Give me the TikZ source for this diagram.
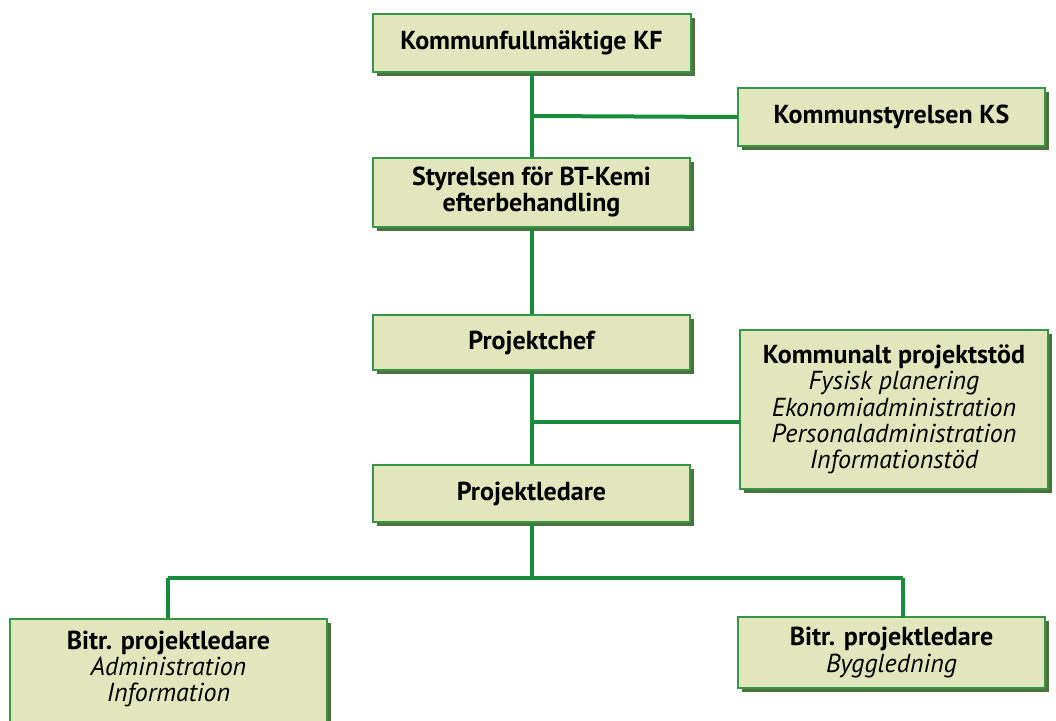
\documentclass[tikz,border=0pt]{standalone}
\usepackage{fontspec}
\setmainfont{PT Sans}
\usetikzlibrary{calc}
\definecolor{boxfill}{RGB}{226,230,188}
\definecolor{boxline}{RGB}{52,150,70}
\definecolor{shadowc}{RGB}{78,112,60}
\definecolor{conn}{RGB}{24,140,58}
\begin{document}
\begin{tikzpicture}[x=1pt,y=-1pt,
  orgbox/.style={draw=boxline, line width=2pt, fill=boxfill, align=center,
    inner sep=0pt, font=\fontsize{26}{26.3}\selectfont\bfseries,
    preaction={fill=shadowc, transform canvas={xshift=4pt,yshift=-4pt}}},
  plaintext/.style={align=center, inner sep=0pt, font=\fontsize{26}{26.3}\selectfont},
  link/.style={draw=conn, line width=4pt}]
\useasboundingbox (0,0) rectangle (1056,720);
\coordinate (ksjoin) at (531.5,116);
\coordinate (kpjoin) at (531.5,422);
\coordinate (kpend) at (740,422);
\coordinate (bjoin) at (531.5,578);
\coordinate (bl) at (168,578);
\coordinate (br) at (903,578);
\coordinate (blbot) at (168,618);
\coordinate (brbot) at (903,618);

\node[orgbox, minimum width=318pt, minimum height=58pt] (kf) at (531.5,42.5) {Kommunfullmäktige KF};
\node[orgbox, minimum width=307pt, minimum height=58pt] (ks) at (891.5,117) {Kommunstyrelsen KS};
\node[orgbox, minimum width=317pt, minimum height=69pt] (st) at (531.5,192) {Styrelsen för BT-Kemi\\efterbehandling};
\node[orgbox, minimum width=317pt, minimum height=55pt] (pc) at (531.5,342.5) {Projektchef};
\node[orgbox, minimum width=308pt, minimum height=159pt] (kp) at (894,409.5) {Kommunalt projektstöd\\
  {\normalfont\itshape Fysisk planering}\\
  {\normalfont\itshape Ekonomiadministration}\\
  {\normalfont\itshape Personaladministration}\\
  {\normalfont\itshape Informationstöd}};
\node[orgbox, minimum width=317pt, minimum height=57pt] (pl) at (531.5,493.5) {Projektledare};
\node[orgbox, minimum width=317pt, minimum height=124pt, anchor=north] (bal) at (168.5,618) {};
\node[plaintext] (baltext) at (168.5,669) {\textbf{Bitr. projektledare}\\ \itshape Administration\\ \itshape Information};
\node[orgbox, minimum width=307pt, minimum height=71pt] (bar) at (891.5,652.5) {Bitr. projektledare\\ {\normalfont\itshape Byggledning}};

\draw[link] (kf.south) -- (st.north);
\draw[link] (ks.west) -- (ksjoin);
\draw[link] (st.south) -- (pc.north);
\draw[link] (pc.south) -- (pl.north);
\draw[link] (kpjoin) -- (kpend);
\draw[link] (pl.south) -- (bjoin);
\draw[link] (bl) -- (br);
\draw[link] (bl) -- (blbot);
\draw[link] (br) -- (brbot);
\end{tikzpicture}
\end{document}
